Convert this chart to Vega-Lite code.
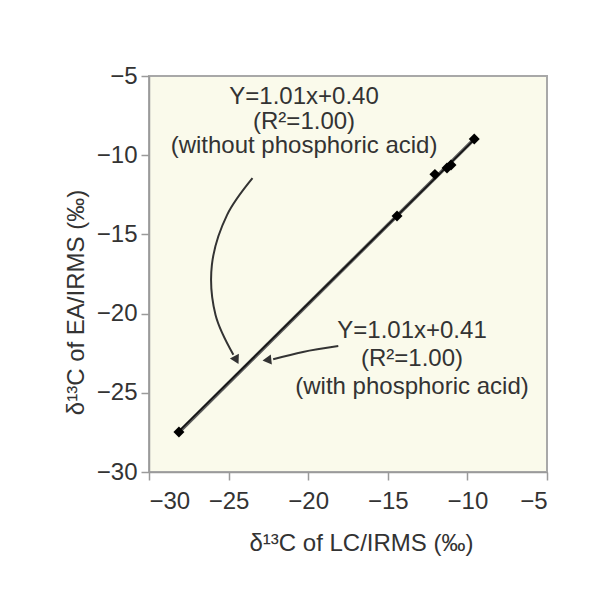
{
  "$schema": "https://vega.github.io/schema/vega-lite/v6.json",
  "width": 398,
  "height": 396,
  "autosize": {"type": "none"},
  "padding": {"left": 149, "top": 76, "right": 43, "bottom": 129},
  "background": "white",
  "config": {
    "font": "Liberation Sans",
    "view": {"fill": "#FAFAEB", "stroke": "#A8A8A8", "strokeWidth": 2},
    "axis": {
      "grid": false,
      "domainColor": "#9A9A9A",
      "domainWidth": 1.5,
      "tickColor": "#9A9A9A",
      "tickWidth": 1.5,
      "tickSize": 8,
      "labelFont": "Liberation Sans",
      "labelFontSize": 24,
      "labelColor": "#333333",
      "titleFont": "Liberation Sans",
      "titleFontSize": 24,
      "titleFontWeight": "normal",
      "titleColor": "#333333"
    }
  },
  "datasets": {
    "points": [
      {"x": -28.12, "y": -27.47},
      {"x": -14.42, "y": -13.84},
      {"x": -12.04, "y": -11.21},
      {"x": -11.28, "y": -10.81},
      {"x": -11.03, "y": -10.62},
      {"x": -9.57, "y": -8.98}
    ],
    "fits": [
      {"series": "without phosphoric acid", "x": -28.25, "y": -27.62},
      {"series": "without phosphoric acid", "x": -9.5, "y": -8.92},
      {"series": "with phosphoric acid", "x": -28.25, "y": -27.55},
      {"series": "with phosphoric acid", "x": -9.5, "y": -8.95}
    ],
    "arrows": [
      {"arrow": "a1", "i": 1, "x": -23.5, "y": -11.45},
      {"arrow": "a1", "i": 2, "x": -25.1, "y": -13.78},
      {"arrow": "a1", "i": 3, "x": -26.05, "y": -16.93},
      {"arrow": "a1", "i": 4, "x": -25.82, "y": -20.09},
      {"arrow": "a1", "i": 5, "x": -24.7, "y": -22.6},
      {"arrow": "a2", "i": 1, "x": -18.11, "y": -22.05},
      {"arrow": "a2", "i": 2, "x": -20.33, "y": -22.42},
      {"arrow": "a2", "i": 3, "x": -22.2, "y": -22.88}
    ],
    "heads": [
      {"arrow": "a1", "x": -24.55, "y": -22.85, "angle": 152},
      {"arrow": "a2", "x": -22.5, "y": -22.92, "angle": 264}
    ],
    "labels": [
      {"x": -20.26, "y": -6.78, "label": "Y=1.01x+0.40"},
      {"x": -20.26, "y": -8.35, "label": "(R²=1.00)"},
      {"x": -20.26, "y": -9.88, "label": "(without phosphoric acid)"},
      {"x": -13.48, "y": -21.54, "label": "Y=1.01x+0.41"},
      {"x": -13.48, "y": -23.31, "label": "(R²=1.00)"},
      {"x": -13.48, "y": -25.08, "label": "(with phosphoric acid)"}
    ]
  },
  "encoding": {
    "x": {
      "field": "x",
      "type": "quantitative",
      "scale": {"domain": [-30, -5], "nice": false, "zero": false},
      "axis": {
        "values": [-30, -25, -20, -15, -10, -5],
        "title": "δ¹³C of LC/IRMS (‰)",
        "labelPadding": 9,
        "titlePadding": 18,
        "titleX": 212
      }
    },
    "y": {
      "field": "y",
      "type": "quantitative",
      "scale": {"domain": [-30, -5], "nice": false, "zero": false},
      "axis": {
        "values": [-30, -25, -20, -15, -10, -5],
        "title": "δ¹³C of EA/IRMS (‰)",
        "labelPadding": 4,
        "titlePadding": 8,
        "titleY": 226
      }
    }
  },
  "layer": [
    {
      "data": {"name": "fits"},
      "transform": [{"filter": "datum.series === 'without phosphoric acid'"}],
      "mark": {"type": "line", "color": "#5a5a5a", "strokeWidth": 3.5},
      "encoding": {}
    },
    {
      "data": {"name": "fits"},
      "transform": [{"filter": "datum.series === 'with phosphoric acid'"}],
      "mark": {"type": "line", "color": "#111111", "strokeWidth": 1.5},
      "encoding": {}
    },
    {
      "data": {"name": "arrows"},
      "mark": {"type": "line", "color": "#333333", "strokeWidth": 2, "interpolate": "catmull-rom"},
      "encoding": {
        "detail": {"field": "arrow"},
        "order": {"field": "i", "type": "quantitative"}
      }
    },
    {
      "data": {"name": "heads"},
      "mark": {"type": "point", "shape": "triangle", "filled": true, "fill": "#333333", "stroke": "#333333", "size": 45, "opacity": 1},
      "encoding": {
        "angle": {"field": "angle", "type": "quantitative", "scale": null}
      }
    },
    {
      "data": {"name": "points"},
      "mark": {"type": "point", "shape": "diamond", "filled": true, "color": "#000000", "size": 120, "opacity": 1},
      "encoding": {}
    },
    {
      "data": {"name": "labels"},
      "mark": {"type": "text", "font": "Liberation Sans", "fontSize": 24, "color": "#333333", "align": "center", "baseline": "alphabetic"},
      "encoding": {
        "text": {"field": "label"}
      }
    }
  ]
}
